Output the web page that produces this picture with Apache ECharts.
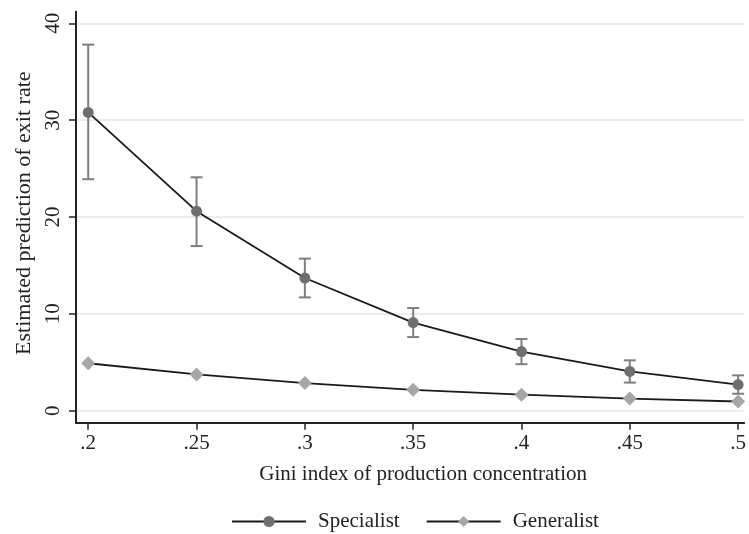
<!DOCTYPE html>
<html><head><meta charset="utf-8">
<script src="https://cdn.jsdelivr.net/npm/echarts@6/dist/echarts.min.js"></script>
<style>html,body{margin:0;padding:0;background:#fff}#c{width:749px;height:534px}</style>
</head><body><div id="c"></div>
<script>
const gini = [0.2, 0.25, 0.3, 0.35, 0.4, 0.45, 0.5];
const specialist = [30.8, 20.6, 13.7, 9.1, 6.1, 4.05, 2.7];
const specialistLow = [23.9, 17.0, 11.7, 7.6, 4.8, 2.9, 1.75];
const specialistHigh = [37.8, 24.1, 15.7, 10.6, 7.4, 5.2, 3.65];
const generalist = [4.9, 3.75, 2.85, 2.15, 1.65, 1.25, 0.95];
const xTicks = [0.2, 0.25, 0.3, 0.35, 0.4, 0.45, 0.5];
const yTicks = [0, 10, 20, 30, 40];

const font = 'Liberation Serif';
const chart = echarts.init(document.getElementById('c'), null, {renderer: 'canvas'});
const pair = (xs, ys) => xs.map((x, i) => [x, ys[i]]);
const ciData = gini.map((x, i) => [x, specialistLow[i], specialistHigh[i]]);

chart.setOption({
  animation: false,
  backgroundColor: '#fff',
  grid: {left: 76, right: 0, top: 11.7, bottom: 111.3, containLabel: false},
  xAxis: {
    type: 'value', min: 0.19436, max: 0.5028,
    name: 'Gini index of production concentration', nameLocation: 'middle', nameGap: 41,
    nameTextStyle: {fontFamily: font, fontSize: 21, color: '#222', padding: [0, 0, 0, 26]},
    axisLine: {show: true, onZero: false, lineStyle: {color: '#222', width: 2}},
    axisTick: {show: true, length: 7, customValues: xTicks, lineStyle: {color: '#222', width: 1.5}},
    axisLabel: {customValues: xTicks, margin: 10, fontFamily: font, fontSize: 21, color: '#222',
      formatter: v => String(+v.toFixed(2)).replace(/^0/, '')},
    splitLine: {show: false}
  },
  yAxis: {
    type: 'value', min: -1.24, max: 41.2,
    name: 'Estimated prediction of exit rate', nameLocation: 'middle', nameGap: 38,
    nameTextStyle: {fontFamily: font, fontSize: 22, color: '#222', padding: [0, 0, 0, 8]},
    axisLine: {show: true, onZero: false, lineStyle: {color: '#222', width: 2}},
    axisTick: {show: true, length: 7, customValues: yTicks, lineStyle: {color: '#222', width: 1.5}},
    axisLabel: {customValues: yTicks, rotate: 90, margin: 12, fontFamily: font, fontSize: 21, color: '#222'},
    splitLine: {show: true, lineStyle: {color: '#e6e6e6', width: 1.5}}
  },
  legend: {
    top: 506, left: 226, itemGap: 26, itemWidth: 74, itemHeight: 14,
    textStyle: {fontFamily: font, fontSize: 21, color: '#222', padding: [0, 0, 0, 7]},
    data: ['Specialist', 'Generalist']
  },
  series: [
    {
      type: 'custom', name: 'ci', silent: true, z: 2,
      data: ciData,
      renderItem: (params, api) => {
        const x = api.value(0);
        const lo = api.coord([x, api.value(1)]);
        const hi = api.coord([x, api.value(2)]);
        const w = 6;
        const style = {stroke: '#7f7f7f', lineWidth: 2};
        return {type: 'group', children: [
          {type: 'line', shape: {x1: lo[0], y1: lo[1], x2: hi[0], y2: hi[1]}, style},
          {type: 'line', shape: {x1: lo[0] - w, y1: lo[1], x2: lo[0] + w, y2: lo[1]}, style},
          {type: 'line', shape: {x1: hi[0] - w, y1: hi[1], x2: hi[0] + w, y2: hi[1]}, style}
        ]};
      }
    },
    {
      type: 'line', name: 'Specialist', z: 3, data: pair(gini, specialist),
      symbol: 'circle', symbolSize: 11, showAllSymbol: true,
      lineStyle: {color: '#1a1a1a', width: 1.8},
      itemStyle: {color: '#6f6f6f', borderWidth: 0}
    },
    {
      type: 'line', name: 'Generalist', z: 3, data: pair(gini, generalist),
      symbol: 'diamond', symbolSize: 14, showAllSymbol: true,
      lineStyle: {color: '#1a1a1a', width: 1.8},
      itemStyle: {color: '#a6a6a6', borderWidth: 0}
    }
  ]
});
</script></body></html>
